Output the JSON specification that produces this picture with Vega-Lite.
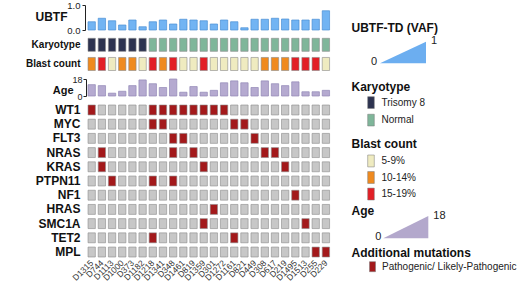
{
"$schema":"https://vega.github.io/schema/vega-lite/v6.json",
"width":520,"height":284,"autosize":{"type":"none"},"padding":0,"background":"white",
"config":{"view":{"stroke":null},"font":"Liberation Sans","axis":{"grid":false}},
"datasets":{
"samples":[
{"s":"D1315","ubtf":0.33,"Karyotype":"Trisomy 8","Blast count":"10-14%","age":12},
{"s":"D744","ubtf":0.47,"Karyotype":"Trisomy 8","Blast count":"15-19%","age":11},
{"s":"D1113","ubtf":0.37,"Karyotype":"Trisomy 8","Blast count":"5-9%","age":3},
{"s":"D1000","ubtf":0.2,"Karyotype":"Trisomy 8","Blast count":"10-14%","age":5},
{"s":"D373","ubtf":0.4,"Karyotype":"Trisomy 8","Blast count":"10-14%","age":11},
{"s":"D1182","ubtf":0.13,"Karyotype":"Trisomy 8","Blast count":"5-9%","age":17},
{"s":"D1218","ubtf":0.33,"Karyotype":"Normal","Blast count":"15-19%","age":13},
{"s":"D1341","ubtf":0.4,"Karyotype":"Normal","Blast count":"10-14%","age":9},
{"s":"D348","ubtf":0.24,"Karyotype":"Normal","Blast count":"15-19%","age":18},
{"s":"D1461","ubtf":0.43,"Karyotype":"Normal","Blast count":"5-9%","age":4},
{"s":"D819","ubtf":0.4,"Karyotype":"Normal","Blast count":"5-9%","age":10},
{"s":"D1359","ubtf":0.37,"Karyotype":"Normal","Blast count":"15-19%","age":4},
{"s":"D301","ubtf":0.24,"Karyotype":"Normal","Blast count":"5-9%","age":6},
{"s":"D1272","ubtf":0.4,"Karyotype":"Normal","Blast count":"5-9%","age":14},
{"s":"D1161","ubtf":0.33,"Karyotype":"Normal","Blast count":"5-9%","age":16},
{"s":"D821","ubtf":0.09,"Karyotype":"Normal","Blast count":"5-9%","age":14},
{"s":"D449","ubtf":0.43,"Karyotype":"Normal","Blast count":"5-9%","age":9},
{"s":"D308","ubtf":0.43,"Karyotype":"Normal","Blast count":"10-14%","age":16},
{"s":"D617","ubtf":0.47,"Karyotype":"Normal","Blast count":"10-14%","age":13},
{"s":"D219","ubtf":0.44,"Karyotype":"Normal","Blast count":"10-14%","age":11},
{"s":"D1495","ubtf":0.4,"Karyotype":"Normal","Blast count":"15-19%","age":15},
{"s":"D1513","ubtf":0.4,"Karyotype":"Normal","Blast count":"15-19%","age":4.5},
{"s":"D255","ubtf":0.43,"Karyotype":"Normal","Blast count":"15-19%","age":4.5},
{"s":"D229","ubtf":0.77,"Karyotype":"Normal","Blast count":"5-9%","age":6}
],
"muts":[
{"s":"D1315","g":"WT1","m":1},{"s":"D744","g":"WT1","m":0},{"s":"D1113","g":"WT1","m":0},{"s":"D1000","g":"WT1","m":0},{"s":"D373","g":"WT1","m":0},{"s":"D1182","g":"WT1","m":0},{"s":"D1218","g":"WT1","m":1},{"s":"D1341","g":"WT1","m":1},{"s":"D348","g":"WT1","m":1},{"s":"D1461","g":"WT1","m":1},{"s":"D819","g":"WT1","m":1},{"s":"D1359","g":"WT1","m":1},{"s":"D301","g":"WT1","m":1},{"s":"D1272","g":"WT1","m":1},{"s":"D1161","g":"WT1","m":0},{"s":"D821","g":"WT1","m":0},{"s":"D449","g":"WT1","m":0},{"s":"D308","g":"WT1","m":0},{"s":"D617","g":"WT1","m":0},{"s":"D219","g":"WT1","m":0},{"s":"D1495","g":"WT1","m":0},{"s":"D1513","g":"WT1","m":0},{"s":"D255","g":"WT1","m":0},{"s":"D229","g":"WT1","m":0},
{"s":"D1315","g":"MYC","m":0},{"s":"D744","g":"MYC","m":0},{"s":"D1113","g":"MYC","m":0},{"s":"D1000","g":"MYC","m":0},{"s":"D373","g":"MYC","m":0},{"s":"D1182","g":"MYC","m":0},{"s":"D1218","g":"MYC","m":1},{"s":"D1341","g":"MYC","m":1},{"s":"D348","g":"MYC","m":0},{"s":"D1461","g":"MYC","m":0},{"s":"D819","g":"MYC","m":0},{"s":"D1359","g":"MYC","m":0},{"s":"D301","g":"MYC","m":0},{"s":"D1272","g":"MYC","m":0},{"s":"D1161","g":"MYC","m":1},{"s":"D821","g":"MYC","m":1},{"s":"D449","g":"MYC","m":0},{"s":"D308","g":"MYC","m":0},{"s":"D617","g":"MYC","m":0},{"s":"D219","g":"MYC","m":0},{"s":"D1495","g":"MYC","m":0},{"s":"D1513","g":"MYC","m":0},{"s":"D255","g":"MYC","m":0},{"s":"D229","g":"MYC","m":0},
{"s":"D1315","g":"FLT3","m":0},{"s":"D744","g":"FLT3","m":0},{"s":"D1113","g":"FLT3","m":0},{"s":"D1000","g":"FLT3","m":0},{"s":"D373","g":"FLT3","m":0},{"s":"D1182","g":"FLT3","m":0},{"s":"D1218","g":"FLT3","m":0},{"s":"D1341","g":"FLT3","m":0},{"s":"D348","g":"FLT3","m":1},{"s":"D1461","g":"FLT3","m":1},{"s":"D819","g":"FLT3","m":0},{"s":"D1359","g":"FLT3","m":0},{"s":"D301","g":"FLT3","m":0},{"s":"D1272","g":"FLT3","m":0},{"s":"D1161","g":"FLT3","m":0},{"s":"D821","g":"FLT3","m":0},{"s":"D449","g":"FLT3","m":1},{"s":"D308","g":"FLT3","m":0},{"s":"D617","g":"FLT3","m":0},{"s":"D219","g":"FLT3","m":0},{"s":"D1495","g":"FLT3","m":0},{"s":"D1513","g":"FLT3","m":0},{"s":"D255","g":"FLT3","m":0},{"s":"D229","g":"FLT3","m":0},
{"s":"D1315","g":"NRAS","m":0},{"s":"D744","g":"NRAS","m":1},{"s":"D1113","g":"NRAS","m":0},{"s":"D1000","g":"NRAS","m":0},{"s":"D373","g":"NRAS","m":0},{"s":"D1182","g":"NRAS","m":0},{"s":"D1218","g":"NRAS","m":0},{"s":"D1341","g":"NRAS","m":0},{"s":"D348","g":"NRAS","m":1},{"s":"D1461","g":"NRAS","m":0},{"s":"D819","g":"NRAS","m":1},{"s":"D1359","g":"NRAS","m":0},{"s":"D301","g":"NRAS","m":0},{"s":"D1272","g":"NRAS","m":0},{"s":"D1161","g":"NRAS","m":0},{"s":"D821","g":"NRAS","m":0},{"s":"D449","g":"NRAS","m":0},{"s":"D308","g":"NRAS","m":1},{"s":"D617","g":"NRAS","m":1},{"s":"D219","g":"NRAS","m":0},{"s":"D1495","g":"NRAS","m":0},{"s":"D1513","g":"NRAS","m":0},{"s":"D255","g":"NRAS","m":0},{"s":"D229","g":"NRAS","m":0},
{"s":"D1315","g":"KRAS","m":0},{"s":"D744","g":"KRAS","m":1},{"s":"D1113","g":"KRAS","m":0},{"s":"D1000","g":"KRAS","m":0},{"s":"D373","g":"KRAS","m":0},{"s":"D1182","g":"KRAS","m":0},{"s":"D1218","g":"KRAS","m":0},{"s":"D1341","g":"KRAS","m":0},{"s":"D348","g":"KRAS","m":0},{"s":"D1461","g":"KRAS","m":0},{"s":"D819","g":"KRAS","m":0},{"s":"D1359","g":"KRAS","m":1},{"s":"D301","g":"KRAS","m":0},{"s":"D1272","g":"KRAS","m":0},{"s":"D1161","g":"KRAS","m":0},{"s":"D821","g":"KRAS","m":0},{"s":"D449","g":"KRAS","m":0},{"s":"D308","g":"KRAS","m":0},{"s":"D617","g":"KRAS","m":0},{"s":"D219","g":"KRAS","m":1},{"s":"D1495","g":"KRAS","m":0},{"s":"D1513","g":"KRAS","m":0},{"s":"D255","g":"KRAS","m":0},{"s":"D229","g":"KRAS","m":0},
{"s":"D1315","g":"PTPN11","m":0},{"s":"D744","g":"PTPN11","m":0},{"s":"D1113","g":"PTPN11","m":1},{"s":"D1000","g":"PTPN11","m":0},{"s":"D373","g":"PTPN11","m":0},{"s":"D1182","g":"PTPN11","m":0},{"s":"D1218","g":"PTPN11","m":1},{"s":"D1341","g":"PTPN11","m":0},{"s":"D348","g":"PTPN11","m":1},{"s":"D1461","g":"PTPN11","m":0},{"s":"D819","g":"PTPN11","m":0},{"s":"D1359","g":"PTPN11","m":0},{"s":"D301","g":"PTPN11","m":0},{"s":"D1272","g":"PTPN11","m":0},{"s":"D1161","g":"PTPN11","m":0},{"s":"D821","g":"PTPN11","m":0},{"s":"D449","g":"PTPN11","m":0},{"s":"D308","g":"PTPN11","m":0},{"s":"D617","g":"PTPN11","m":0},{"s":"D219","g":"PTPN11","m":0},{"s":"D1495","g":"PTPN11","m":0},{"s":"D1513","g":"PTPN11","m":0},{"s":"D255","g":"PTPN11","m":0},{"s":"D229","g":"PTPN11","m":0},
{"s":"D1315","g":"NF1","m":0},{"s":"D744","g":"NF1","m":0},{"s":"D1113","g":"NF1","m":0},{"s":"D1000","g":"NF1","m":0},{"s":"D373","g":"NF1","m":0},{"s":"D1182","g":"NF1","m":0},{"s":"D1218","g":"NF1","m":0},{"s":"D1341","g":"NF1","m":0},{"s":"D348","g":"NF1","m":0},{"s":"D1461","g":"NF1","m":0},{"s":"D819","g":"NF1","m":0},{"s":"D1359","g":"NF1","m":0},{"s":"D301","g":"NF1","m":0},{"s":"D1272","g":"NF1","m":0},{"s":"D1161","g":"NF1","m":0},{"s":"D821","g":"NF1","m":0},{"s":"D449","g":"NF1","m":0},{"s":"D308","g":"NF1","m":0},{"s":"D617","g":"NF1","m":0},{"s":"D219","g":"NF1","m":0},{"s":"D1495","g":"NF1","m":1},{"s":"D1513","g":"NF1","m":0},{"s":"D255","g":"NF1","m":0},{"s":"D229","g":"NF1","m":0},
{"s":"D1315","g":"HRAS","m":0},{"s":"D744","g":"HRAS","m":0},{"s":"D1113","g":"HRAS","m":0},{"s":"D1000","g":"HRAS","m":0},{"s":"D373","g":"HRAS","m":0},{"s":"D1182","g":"HRAS","m":0},{"s":"D1218","g":"HRAS","m":0},{"s":"D1341","g":"HRAS","m":0},{"s":"D348","g":"HRAS","m":0},{"s":"D1461","g":"HRAS","m":0},{"s":"D819","g":"HRAS","m":0},{"s":"D1359","g":"HRAS","m":0},{"s":"D301","g":"HRAS","m":1},{"s":"D1272","g":"HRAS","m":0},{"s":"D1161","g":"HRAS","m":0},{"s":"D821","g":"HRAS","m":0},{"s":"D449","g":"HRAS","m":0},{"s":"D308","g":"HRAS","m":0},{"s":"D617","g":"HRAS","m":0},{"s":"D219","g":"HRAS","m":0},{"s":"D1495","g":"HRAS","m":0},{"s":"D1513","g":"HRAS","m":0},{"s":"D255","g":"HRAS","m":0},{"s":"D229","g":"HRAS","m":0},
{"s":"D1315","g":"SMC1A","m":0},{"s":"D744","g":"SMC1A","m":0},{"s":"D1113","g":"SMC1A","m":0},{"s":"D1000","g":"SMC1A","m":0},{"s":"D373","g":"SMC1A","m":0},{"s":"D1182","g":"SMC1A","m":0},{"s":"D1218","g":"SMC1A","m":0},{"s":"D1341","g":"SMC1A","m":0},{"s":"D348","g":"SMC1A","m":0},{"s":"D1461","g":"SMC1A","m":0},{"s":"D819","g":"SMC1A","m":0},{"s":"D1359","g":"SMC1A","m":1},{"s":"D301","g":"SMC1A","m":0},{"s":"D1272","g":"SMC1A","m":0},{"s":"D1161","g":"SMC1A","m":0},{"s":"D821","g":"SMC1A","m":0},{"s":"D449","g":"SMC1A","m":0},{"s":"D308","g":"SMC1A","m":0},{"s":"D617","g":"SMC1A","m":0},{"s":"D219","g":"SMC1A","m":0},{"s":"D1495","g":"SMC1A","m":0},{"s":"D1513","g":"SMC1A","m":1},{"s":"D255","g":"SMC1A","m":0},{"s":"D229","g":"SMC1A","m":0},
{"s":"D1315","g":"TET2","m":0},{"s":"D744","g":"TET2","m":0},{"s":"D1113","g":"TET2","m":0},{"s":"D1000","g":"TET2","m":0},{"s":"D373","g":"TET2","m":0},{"s":"D1182","g":"TET2","m":0},{"s":"D1218","g":"TET2","m":1},{"s":"D1341","g":"TET2","m":0},{"s":"D348","g":"TET2","m":0},{"s":"D1461","g":"TET2","m":0},{"s":"D819","g":"TET2","m":0},{"s":"D1359","g":"TET2","m":0},{"s":"D301","g":"TET2","m":0},{"s":"D1272","g":"TET2","m":0},{"s":"D1161","g":"TET2","m":1},{"s":"D821","g":"TET2","m":0},{"s":"D449","g":"TET2","m":0},{"s":"D308","g":"TET2","m":0},{"s":"D617","g":"TET2","m":0},{"s":"D219","g":"TET2","m":0},{"s":"D1495","g":"TET2","m":0},{"s":"D1513","g":"TET2","m":0},{"s":"D255","g":"TET2","m":0},{"s":"D229","g":"TET2","m":0},
{"s":"D1315","g":"MPL","m":0},{"s":"D744","g":"MPL","m":0},{"s":"D1113","g":"MPL","m":0},{"s":"D1000","g":"MPL","m":0},{"s":"D373","g":"MPL","m":0},{"s":"D1182","g":"MPL","m":0},{"s":"D1218","g":"MPL","m":0},{"s":"D1341","g":"MPL","m":0},{"s":"D348","g":"MPL","m":0},{"s":"D1461","g":"MPL","m":0},{"s":"D819","g":"MPL","m":0},{"s":"D1359","g":"MPL","m":0},{"s":"D301","g":"MPL","m":0},{"s":"D1272","g":"MPL","m":0},{"s":"D1161","g":"MPL","m":0},{"s":"D821","g":"MPL","m":0},{"s":"D449","g":"MPL","m":0},{"s":"D308","g":"MPL","m":0},{"s":"D617","g":"MPL","m":0},{"s":"D219","g":"MPL","m":0},{"s":"D1495","g":"MPL","m":0},{"s":"D1513","g":"MPL","m":0},{"s":"D255","g":"MPL","m":1},{"s":"D229","g":"MPL","m":1}
]
},
"layer":[
{"data":{"name":"samples"},
 "transform":[{"fold":["Karyotype","Blast count"],"as":["track","cat"]}],
 "mark":{"type":"rect","stroke":"#8a8a8a","strokeWidth":0.6},
 "encoding":{
  "x":{"field":"s","type":"nominal","sort":["D1315","D744","D1113","D1000","D373","D1182","D1218","D1341","D348","D1461","D819","D1359","D301","D1272","D1161","D821","D449","D308","D617","D219","D1495","D1513","D255","D229"],"scale":{"range":[86.6,331],"paddingInner":0.28,"paddingOuter":0.14},"axis":null},
  "y":{"field":"track","type":"nominal","sort":["Karyotype","Blast count"],"scale":{"range":[38.3,70.5],"paddingInner":0.32,"paddingOuter":0},
   "axis":{"orient":"left","offset":-84,"domain":false,"ticks":false,"tickSize":0,"labelPadding":4,"labelFontSize":10,"labelFontWeight":"bold","labelColor":"#111","title":null}},
  "color":{"field":"cat","type":"nominal","scale":{"domain":["Trisomy 8","Normal","5-9%","10-14%","15-19%"],"range":["#2d3350","#7fb69a","#efebc0","#ef8a1f","#e21f26"]},"legend":null}
 }},
{"data":{"name":"samples"},
 "mark":{"type":"bar","fill":"#72b4f3","stroke":"#4c8fd4","strokeWidth":0.7},
 "encoding":{
  "x":{"field":"s","type":"nominal","sort":["D1315","D744","D1113","D1000","D373","D1182","D1218","D1341","D348","D1461","D819","D1359","D301","D1272","D1161","D821","D449","D308","D617","D219","D1495","D1513","D255","D229"],"scale":{"range":[86.6,331],"paddingInner":0.28,"paddingOuter":0.14},"axis":null},
  "y":{"field":"ubtf","type":"quantitative","scale":{"domain":[0,1],"range":[30,5],"nice":false},
   "axis":{"orient":"left","offset":-85,"values":[0,1],"labelOverlap":false,"tickSize":3,"labelPadding":2,"labelFontSize":9.5,"labelColor":"#222","domainColor":"#222","domainWidth":1,"tickColor":"#222","title":"UBTF","titleAngle":0,"titleAlign":"right","titleBaseline":"middle","titleX":-18,"titleY":16,"titleFontSize":12,"titleFontWeight":"bold","titleColor":"#111"}}
 }},
{"data":{"name":"samples"},
 "mark":{"type":"bar","fill":"#b5aad0","stroke":"#9288b6","strokeWidth":0.7},
 "encoding":{
  "x":{"field":"s","type":"nominal","sort":["D1315","D744","D1113","D1000","D373","D1182","D1218","D1341","D348","D1461","D819","D1359","D301","D1272","D1161","D821","D449","D308","D617","D219","D1495","D1513","D255","D229"],"scale":{"range":[86.6,331],"paddingInner":0.28,"paddingOuter":0.14},"axis":null},
  "y":{"field":"age","type":"quantitative","scale":{"domain":[0,18],"range":[96,79],"nice":false},
   "axis":{"orient":"left","offset":-86,"values":[0,18],"labelOverlap":false,"tickSize":3,"labelPadding":1,"labelFontSize":9,"labelColor":"#222","domainColor":"#222","tickColor":"#222","title":"Age","titleAngle":0,"titleAlign":"right","titleBaseline":"alphabetic","titleX":-13,"titleY":93,"titleFontSize":11,"titleFontWeight":"bold","titleColor":"#111"}}
 }},
{"data":{"name":"muts"},
 "mark":{"type":"rect","stroke":"#8c8c8c","strokeWidth":0.6},
 "encoding":{
  "x":{"field":"s","type":"nominal","sort":["D1315","D744","D1113","D1000","D373","D1182","D1218","D1341","D348","D1461","D819","D1359","D301","D1272","D1161","D821","D449","D308","D617","D219","D1495","D1513","D255","D229"],"scale":{"range":[86.6,331],"paddingInner":0.28,"paddingOuter":0.14},
   "axis":{"orient":"bottom","offset":-26,"domain":false,"ticks":false,"tickSize":0,"labelAngle":-45,"labelAlign":"right","labelBaseline":"middle","labelPadding":3,"labelFontSize":8.5,"labelColor":"#333","title":null}},
  "y":{"field":"g","type":"nominal","sort":["WT1","MYC","FLT3","NRAS","KRAS","PTPN11","NF1","HRAS","SMC1A","TET2","MPL"],"scale":{"range":[105,257],"paddingInner":0.3,"paddingOuter":0},
   "axis":{"orient":"left","offset":-84,"domain":false,"ticks":false,"tickSize":0,"labelPadding":4,"labelFontSize":12,"labelFontWeight":"bold","labelColor":"#111","title":null}},
  "color":{"field":"m","type":"nominal","scale":{"domain":[0,1],"range":["#c7c7c7","#a3191b"]},"legend":null}
 }},
{"data":{"values":[{"v":0},{"v":1}]},
 "mark":{"type":"area","color":"#6caef0"},
 "encoding":{
  "x":{"field":"v","type":"quantitative","scale":{"domain":[0,1],"range":[380,426],"nice":false,"zero":false},"axis":null},
  "y":{"field":"v","type":"quantitative","scale":{"domain":[0,1],"range":[63.3,41.7],"nice":false},
   "axis":{"orient":"left","offset":-351,"domain":false,"ticks":false,"labels":false,"title":"UBTF-TD (VAF)","titleAngle":0,"titleAlign":"left","titleBaseline":"alphabetic","titleX":0,"titleY":31.5,"titleFontSize":12,"titleFontWeight":"bold","titleColor":"#111"}}
 }},
{"data":{"values":[{"v":0,"t":"0"}]},
 "mark":{"type":"text","align":"right","baseline":"middle","dx":-3,"dy":-1,"fontSize":11,"color":"#222"},
 "encoding":{
  "x":{"field":"v","type":"quantitative","scale":{"domain":[0,1],"range":[380,426],"nice":false,"zero":false},"axis":null},
  "y":{"field":"v","type":"quantitative","scale":{"domain":[0,1],"range":[63.3,41.7],"nice":false},"axis":null},
  "text":{"field":"t"}}},
{"data":{"values":[{"v":1,"t":"1"}]},
 "mark":{"type":"text","align":"left","baseline":"middle","dx":5,"dy":-1,"fontSize":11,"color":"#222"},
 "encoding":{
  "x":{"field":"v","type":"quantitative","scale":{"domain":[0,1],"range":[380,426],"nice":false,"zero":false},"axis":null},
  "y":{"field":"v","type":"quantitative","scale":{"domain":[0,1],"range":[63.3,41.7],"nice":false},"axis":null},
  "text":{"field":"t"}}},
{"data":{"values":[{"k":"Trisomy 8"},{"k":"Normal"}]},
 "mark":{"type":"rect","stroke":"#777","strokeWidth":0.5},
 "encoding":{
  "x":{"datum":"Karyotype","type":"nominal","scale":{"range":[367.7,374.3],"paddingInner":0,"paddingOuter":0},"axis":null},
  "y":{"field":"k","type":"nominal","sort":["Trisomy 8","Normal"],"scale":{"range":[96.7,126],"paddingInner":0.33,"paddingOuter":0},
   "axis":{"orient":"left","offset":-381,"domain":false,"ticks":false,"tickSize":0,"labelPadding":0,"labelAlign":"left","labelFontSize":10,"labelColor":"#222","title":"Karyotype","titleAngle":0,"titleAlign":"left","titleBaseline":"alphabetic","titleX":-30,"titleY":90.7,"titleFontSize":12,"titleFontWeight":"bold","titleColor":"#111"}},
  "color":{"field":"k","type":"nominal","scale":{"domain":["Trisomy 8","Normal"],"range":["#2d3350","#7fb69a"]},"legend":null}
 }},
{"data":{"values":[{"k":"5-9%"},{"k":"10-14%"},{"k":"15-19%"}]},
 "mark":{"type":"rect","stroke":"#777","strokeWidth":0.5},
 "encoding":{
  "x":{"datum":"Blast count","type":"nominal","scale":{"range":[367.7,374.3],"paddingInner":0,"paddingOuter":0},"axis":null},
  "y":{"field":"k","type":"nominal","sort":["5-9%","10-14%","15-19%"],"scale":{"range":[155,200],"paddingInner":0.28,"paddingOuter":0},
   "axis":{"orient":"left","offset":-381,"domain":false,"ticks":false,"tickSize":0,"labelPadding":0,"labelAlign":"left","labelFontSize":10,"labelColor":"#222","title":"Blast count","titleAngle":0,"titleAlign":"left","titleBaseline":"alphabetic","titleX":-30,"titleY":147,"titleFontSize":12,"titleFontWeight":"bold","titleColor":"#111"}},
  "color":{"field":"k","type":"nominal","scale":{"domain":["5-9%","10-14%","15-19%"],"range":["#efebc0","#ef8a1f","#e21f26"]},"legend":null}
 }},
{"data":{"values":[{"v":0},{"v":18}]},
 "mark":{"type":"area","color":"#b3a8cc"},
 "encoding":{
  "x":{"field":"v","type":"quantitative","scale":{"domain":[0,18],"range":[383.3,428.3],"nice":false,"zero":false},"axis":null},
  "y":{"field":"v","type":"quantitative","scale":{"domain":[0,18],"range":[238.3,216],"nice":false},
   "axis":{"orient":"left","offset":-351,"domain":false,"ticks":false,"labels":false,"title":"Age","titleAngle":0,"titleAlign":"left","titleBaseline":"alphabetic","titleX":0,"titleY":214,"titleFontSize":12,"titleFontWeight":"bold","titleColor":"#111"}}
 }},
{"data":{"values":[{"v":0,"t":"0"}]},
 "mark":{"type":"text","align":"right","baseline":"middle","dx":-2,"dy":-1,"fontSize":11,"color":"#222"},
 "encoding":{
  "x":{"field":"v","type":"quantitative","scale":{"domain":[0,18],"range":[383.3,428.3],"nice":false,"zero":false},"axis":null},
  "y":{"field":"v","type":"quantitative","scale":{"domain":[0,18],"range":[238.3,216],"nice":false},"axis":null},
  "text":{"field":"t"}}},
{"data":{"values":[{"v":18,"t":"18"}]},
 "mark":{"type":"text","align":"left","baseline":"middle","dx":5,"dy":0,"fontSize":11,"color":"#222"},
 "encoding":{
  "x":{"field":"v","type":"quantitative","scale":{"domain":[0,18],"range":[383.3,428.3],"nice":false,"zero":false},"axis":null},
  "y":{"field":"v","type":"quantitative","scale":{"domain":[0,18],"range":[238.3,216],"nice":false},"axis":null},
  "text":{"field":"t"}}},
{"data":{"values":[{"k":"Pathogenic/ Likely-Pathogenic"}]},
 "mark":{"type":"rect","stroke":"#777","strokeWidth":0.5},
 "encoding":{
  "x":{"datum":"Additional mutations","type":"nominal","scale":{"range":[369.5,375.5],"paddingInner":0,"paddingOuter":0},"axis":null},
  "y":{"field":"k","type":"nominal","scale":{"range":[261.7,271.7],"paddingInner":0,"paddingOuter":0},
   "axis":{"orient":"left","offset":-381.5,"domain":false,"ticks":false,"tickSize":0,"labelPadding":0,"labelAlign":"left","labelFontSize":10,"labelColor":"#222","title":"Additional mutations","titleAngle":0,"titleAlign":"left","titleBaseline":"alphabetic","titleX":-30.5,"titleY":256,"titleFontSize":12,"titleFontWeight":"bold","titleColor":"#111"}},
  "color":{"value":"#a3191b"}
 }}
],
"resolve":{"scale":{"x":"independent","y":"independent","color":"independent"},"axis":{"x":"independent","y":"independent"}}
}
